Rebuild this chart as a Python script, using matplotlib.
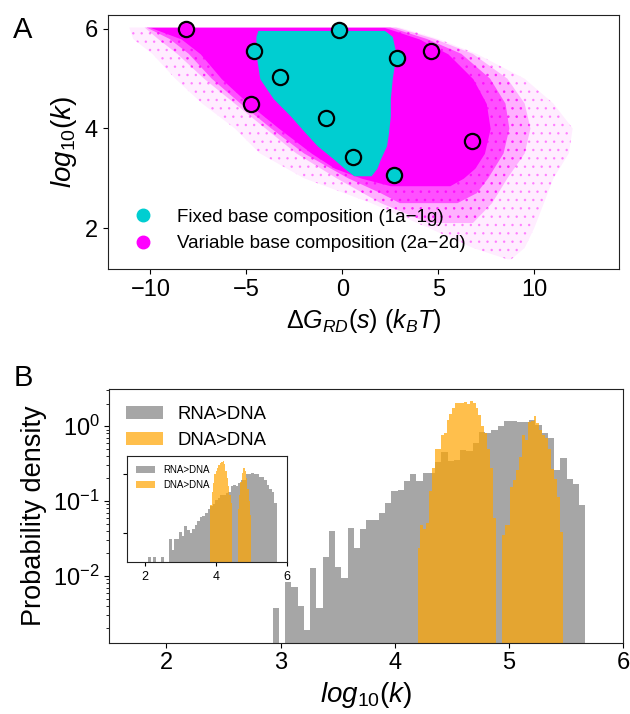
import numpy as np
import matplotlib.pyplot as plt
from matplotlib.lines import Line2D

plt.rcParams['font.family'] = ['Liberation Sans', 'DejaVu Sans']
plt.rcParams['mathtext.fontset'] = 'custom'
plt.rcParams['mathtext.rm'] = 'Liberation Sans'
plt.rcParams['mathtext.it'] = 'Liberation Sans:italic'
plt.rcParams['mathtext.bf'] = 'Liberation Sans:bold'
plt.rcParams['hatch.linewidth'] = 0.6

CYAN = 'darkturquoise'
MAGENTA = '#ff00ff'

# ── Panel A: highlighted sequences ─────────────────────────
fixed_dg = [-0.18, -4.58, -3.23, -0.85, 0.56, 2.85, 2.69]
fixed_logk = [5.98, 5.56, 5.03, 4.21, 3.43, 5.42, 3.07]
var_dg = [-8.12, -4.77, 4.61, 6.78]
var_logk = [6.00, 4.50, 5.56, 3.74]

# ── Panel A: outline of the point clouds (dG extent at each log10 k level)
halo_logk = [6.03, 5.8, 5.5, 5.0, 4.5, 4.0, 3.5, 3.0, 2.5, 2.0, 1.6, 1.37]
halo_lo = [-11.1, -10.9, -9.9, -8.7, -7.3, -5.6, -4.3, -2.0, 1.5, 4.5, 6.8, 8.6]
halo_hi = [3.0, 5.0, 7.0, 9.5, 11.0, 12.0, 11.8, 11.0, 10.5, 10.0, 9.5, 8.8]

sparse_logk = [6.03, 5.8, 5.5, 5.0, 4.5, 4.0, 3.5, 3.0, 2.5, 2.1]
sparse_lo = [-10.3, -9.6, -8.6, -7.2, -5.6, -4.0, -2.4, -0.3, 2.0, 4.5]
sparse_hi = [2.8, 4.8, 6.8, 8.6, 9.5, 9.8, 9.5, 8.6, 7.8, 6.8]

mid_logk = [6.03, 5.8, 5.5, 5.0, 4.5, 4.0, 3.5, 3.0, 2.7, 2.5]
mid_lo = [-10.2, -9.0, -8.0, -6.8, -5.3, -3.7, -2.0, 0.3, 2.0, 3.0]
mid_hi = [2.5, 4.4, 6.2, 7.7, 8.5, 8.7, 8.4, 7.6, 7.0, 6.0]

dense_logk = [6.03, 5.8, 5.5, 5.0, 4.5, 4.0, 3.5, 3.2, 3.0, 2.85]
dense_lo = [-10.0, -8.4, -7.4, -6.3, -4.9, -3.3, -1.6, -0.4, 1.0, 2.5]
dense_hi = [2.2, 4.0, 5.5, 6.8, 7.5, 7.7, 7.4, 6.9, 6.3, 5.6]

core_logk = [5.97, 5.85, 5.5, 5.0, 4.6, 4.25, 3.9, 3.65, 3.4, 3.2, 3.05]
core_lo = [-4.4, -4.5, -4.5, -4.3, -3.6, -2.7, -1.9, -1.3, -0.5, 0.1, 0.6]
core_hi = [2.2, 2.6, 2.8, 2.6, 2.5, 2.5, 2.4, 2.3, 2.0, 1.8, 1.5]

# ── Panel B: histograms (probability density per bin) ──────
rna_edges = np.linspace(2.93, 5.67, 51)
rna_density = [0.0037, 0, 0.0083, 0.0072, 0.0040, 0.0019, 0.0129, 0.0037, 0.018, 0.040,
               0.013, 0.0093, 0.044, 0.024, 0.042, 0.056, 0.056, 0.070, 0.095, 0.136,
               0.140, 0.187, 0.227, 0.183, 0.234, 0.240, 0.33, 0.455, 0.345, 0.35,
               0.48, 0.47, 0.60, 0.83, 0.82, 0.90, 1.00, 1.18, 1.18, 1.14,
               1.14, 1.20, 1.05, 0.80, 0.69, 0.26, 0.38, 0.195, 0.167, 0.089]

dna_edges = np.linspace(4.20, 5.47, 51)
dna_density = [0.024, 0.048, 0.043, 0.051, 0.136, 0.28, 0.50, 0.50, 0.76, 0.80,
               1.22, 1.44, 1.72, 2.06, 2.03, 2.03, 2.08, 2.00, 2.17, 2.04,
               1.75, 1.40, 1.00, 0.82, 0.50, 0.28, 0.059, 0, 0, 0.035,
               0.048, 0.048, 0.155, 0.19, 0.26, 0.39, 0.76, 0.66, 1.14, 1.18,
               1.36, 1.09, 0.90, 0.76, 0.69, 0.50, 0.27, 0.195, 0.114, 0.039]

# inset
rna_in_edges = np.linspace(2.10, 5.72, 51)
rna_in_density = [0.038, 0, 0.038, 0, 0, 0.038, 0, 0, 0.077, 0.050,
                  0.077, 0.077, 0.104, 0.088, 0.13, 0.11, 0.098, 0.115, 0.135, 0.16,
                  0.188, 0.19, 0.215, 0.25, 0.29, 0.31, 0.36, 0.40, 0.44, 0.44,
                  0.47, 0.50, 0.63, 0.65, 0.63, 0.70, 0.80, 0.80, 1.00, 1.02,
                  1.05, 1.02, 1.00, 0.91, 0.91, 0.80, 0.65, 0.56, 0.50, 0.32]

dna_in_edges = np.linspace(3.84, 5.00, 31)
dna_in_density = [0.30, 0.50, 0.72, 1.00, 1.15, 1.30, 1.42, 1.55, 1.62, 1.70,
                  1.50, 1.15, 0.88, 0.62, 0.45, 0.32, 0, 0, 0, 0,
                  0.25, 0.45, 0.75, 1.05, 1.27, 1.15, 0.85, 0.55, 0.35, 0.20]


fig = plt.figure(figsize=(6.3, 7.14), dpi=100)

# ── Panel A ────────────────────────────────────────────────
axA = fig.add_axes([0.171, 0.6228, 0.8115, 0.3558])
axA.fill_betweenx(halo_logk, halo_lo, halo_hi, facecolor=(1, 0, 1, 0.07),
                  edgecolor=(1, 0, 1, 0.35), hatch='..', linewidth=0)
axA.fill_betweenx(sparse_logk, sparse_lo, sparse_hi, facecolor=(1, 0, 1, 0.25),
                  edgecolor=(1, 0, 1, 0.5), hatch='..', linewidth=0)
axA.fill_betweenx(mid_logk, mid_lo, mid_hi, facecolor=(1, 0, 1, 0.55), linewidth=0)
axA.fill_betweenx(dense_logk, dense_lo, dense_hi, color=MAGENTA, linewidth=0)
axA.fill_betweenx(core_logk, core_lo, core_hi, color=CYAN, linewidth=0)

axA.scatter(fixed_dg, fixed_logk, s=120, color=CYAN, edgecolor='black', linewidth=1.6, zorder=5)
axA.scatter(var_dg, var_logk, s=120, color=MAGENTA, edgecolor='black', linewidth=1.6, zorder=5)

handles = [Line2D([], [], marker='o', linestyle='none', color=CYAN, markersize=9),
           Line2D([], [], marker='o', linestyle='none', color=MAGENTA, markersize=9)]
axA.legend(handles, ['Fixed base composition (1a\u22121g)',
                     'Variable base composition (2a\u22122d)'],
           loc='lower left', frameon=False, fontsize=13.5)

axA.set_xlim(-12.22, 14.41)
axA.set_ylim(1.17, 6.275)
axA.set_xticks([-10, -5, 0, 5, 10])
axA.set_yticks([2, 4, 6])
axA.tick_params(labelsize=17)
axA.set_xlabel(r'$\Delta G_{RD}(s)\ (k_BT)$', fontsize=18)
axA.set_ylabel(r'$log_{10}(k)$', fontsize=20)

# ── Panel B ────────────────────────────────────────────────
axB = fig.add_axes([0.1735, 0.0999, 0.8154, 0.3549])
axB.stairs(rna_density, rna_edges, fill=True, baseline=1e-5, color='gray', alpha=0.7, label='RNA>DNA')
axB.stairs(dna_density, dna_edges, fill=True, baseline=1e-5, color='orange', alpha=0.7, label='DNA>DNA')
axB.set_yscale('log')
axB.set_xlim(1.5, 6.0)
axB.set_ylim(0.00129, 3.1)
axB.set_xticks([2, 3, 4, 5, 6])
axB.tick_params(labelsize=17)
axB.set_xlabel(r'$log_{10}(k)$', fontsize=20)
axB.set_ylabel('Probability density', fontsize=19.5)
axB.legend(loc='upper left', frameon=False, fontsize=13.3)

# inset
axIn = fig.add_axes([0.2016, 0.2129, 0.254, 0.1485])
axIn.stairs(rna_in_density, rna_in_edges, fill=True, baseline=1e-5, color='gray', alpha=0.7, label='RNA>DNA')
axIn.stairs(dna_in_density, dna_in_edges, fill=True, baseline=1e-5, color='orange', alpha=0.7, label='DNA>DNA')
axIn.set_yscale('log')
axIn.set_xlim(1.5, 6.0)
axIn.set_ylim(0.0315, 2.06)
axIn.set_xticks([2, 4, 6])
axIn.set_yticks([0.1, 1])
axIn.minorticks_off()
axIn.set_yticklabels([])
axIn.tick_params(labelsize=9, length=3)
axIn.legend(loc='upper left', frameon=False, fontsize=7)

for ax in (axA, axB, axIn):
    for sp in ax.spines.values():
        sp.set_color('#222222')

fig.text(23 / 630, 1 - 30 / 714, 'A', fontsize=21, ha='center', va='center')
fig.text(23 / 630, 1 - 378 / 714, 'B', fontsize=21, ha='center', va='center')

fig.savefig('out.png', dpi=100)
